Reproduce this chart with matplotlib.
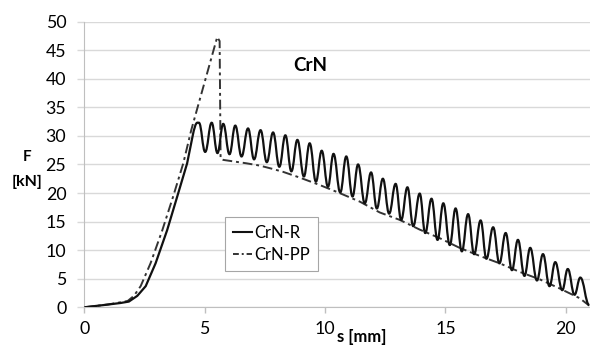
import matplotlib.pyplot as plt
from matplotlib.path import Path
from matplotlib.patches import PathPatch
from matplotlib.lines import Line2D

plt.rcParams['font.family'] = ['Lato', 'DejaVu Sans']

# CrN-R: smooth rise, then oscillation given by its peaks / troughs
rise_x = [0, 0.82, 1.5, 1.85, 2.2, 2.55, 2.96, 3.44, 3.86, 4.27, 4.50]
rise_y = [0, 0.4, 0.75, 1.0, 2.0, 3.7, 7.7, 13.5, 19.4, 25.2, 30.0]

peak_x = [4.76, 5.29, 5.77, 6.27, 6.80, 7.32, 7.84, 8.35, 8.85, 9.36, 9.86,
          10.35, 10.88, 11.37, 11.91, 12.40, 12.93, 13.42, 13.93, 14.42,
          14.91, 15.42, 15.94, 16.46, 16.98, 17.50, 18.01, 18.52, 19.05,
          19.56, 20.08, 20.60]
peak_y = [32.3, 32.3, 32.1, 31.8, 31.3, 31.0, 30.6, 30.1, 29.3, 28.7, 27.4,
          26.85, 26.4, 25.0, 23.6, 22.5, 21.6, 21.0, 19.9, 19.0,
          18.2, 17.3, 16.3, 15.2, 14.0, 13.0, 11.8, 10.4, 9.3,
          7.9, 6.7, 5.2]
trough_x = [5.02, 5.53, 6.03, 6.53, 7.05, 7.58, 8.10, 8.60, 9.12, 9.62,
            10.12, 10.63, 11.14, 11.65, 12.15, 12.66, 13.16, 13.66, 14.16,
            14.67, 15.18, 15.68, 16.19, 16.70, 17.24, 17.76, 18.28, 18.80,
            19.32, 19.85, 20.36]
trough_y = [27.2, 27.0, 26.8, 26.4, 25.9, 25.4, 24.6, 23.8, 22.9, 22.0,
            21.1, 20.1, 19.4, 18.2, 17.3, 16.4, 15.3, 14.2, 13.0,
            11.8, 10.9, 9.8, 9.3, 8.5, 7.7, 6.5, 5.5, 4.7,
            3.7, 3.0, 2.2]
end_x, end_y = 20.97, 0.4

# CrN-PP
pp_x = [0, 1.0, 1.8, 2.06, 2.34, 2.75, 3.24, 3.69, 4.11, 4.44, 5.52, 5.62,
        5.66, 5.77, 6.25, 6.74, 7.29, 7.84, 8.26, 8.95, 9.78, 10.6, 11.44,
        12.27, 13.1, 13.93, 14.76, 15.59, 16.42, 17.25, 18.08, 18.91, 19.74,
        20.57, 20.97]
pp_y = [0, 0.5, 1.1, 2.0, 3.7, 7.7, 13.5, 19.4, 25.2, 31.0, 47.3, 46.6,
        26.0, 25.8, 25.5, 25.2, 24.8, 24.2, 23.7, 22.7, 21.4, 20.0, 18.5,
        16.6, 15.3, 13.6, 12.1, 10.4, 9.0, 7.7, 6.2, 4.9, 3.3,
        1.6, 0.3]

fig = plt.figure(figsize=(5.9, 3.49), dpi=100)
ax = fig.add_axes([0.1429, 0.1195, 0.857, 0.8185])

# build the R curve as a path: straight rise, smooth waves after
ext = []
for i in range(len(peak_x)):
    ext.append((peak_x[i], peak_y[i]))
    if i < len(trough_x):
        ext.append((trough_x[i], trough_y[i]))
ext.append((end_x, end_y))

verts = list(zip(rise_x, rise_y))
codes = [Path.MOVETO] + [Path.LINETO] * (len(verts) - 1)
# rise -> first peak
x0, y0 = verts[-1]
x1, y1 = ext[0]
sx = (rise_x[-1] - rise_x[-2]); sy = (rise_y[-1] - rise_y[-2])
k = (x1 - x0) * 0.5 / sx
verts += [(x0 + sx * k, y0 + sy * k), (x1 - (x1 - x0) * 0.3, y1), (x1, y1)]
codes += [Path.CURVE4] * 3
for (xa, ya), (xb, yb) in zip(ext[:-1], ext[1:]):
    d = (xb - xa) * 0.42
    verts += [(xa + d, ya), (xb - d, yb), (xb, yb)]
    codes += [Path.CURVE4] * 3

ax.add_patch(PathPatch(Path(verts, codes), facecolor='none',
                       edgecolor='#111111', lw=1.6, zorder=3))
ax.plot(pp_x, pp_y, color='#333333', lw=1.4, ls=(0, (5, 2, 1.5, 2)), zorder=2)

ax.set_xlim(0, 21)
ax.set_ylim(0, 50)
ax.set_xticks(range(0, 21, 5))
ax.set_yticks(range(0, 51, 5))
ax.yaxis.grid(True, color='#d9d9d9', lw=1)
ax.set_axisbelow(True)
for s in ['top', 'right']:
    ax.spines[s].set_visible(False)
for s in ['left', 'bottom']:
    ax.spines[s].set_color('#bfbfbf')
ax.tick_params(axis='y', length=5, width=1, color='#d9d9d9', pad=8,
               labelsize=12.8, labelcolor='#000000')
ax.tick_params(axis='x', length=4, width=1, color='#bfbfbf', pad=6,
               labelsize=12.8)

ax.text(9.4, 42.4, 'CrN', fontsize=13.5, fontweight='bold', ha='center', va='center')
ax.text(10.5, -5.2, 's [mm]', fontsize=12, fontweight='bold', ha='left', va='center',
        clip_on=False)
fig.text(0.046, 0.549, 'F', fontsize=11, fontweight='bold', ha='center', va='center')
fig.text(0.046, 0.478, '[kN]', fontsize=11.5, fontweight='bold', ha='center', va='center')

handles = [Line2D([], [], color='#111111', lw=1.5),
           Line2D([], [], color='#333333', lw=1.4, ls=(0, (3, 1.5, 1, 1.5)))]
leg = ax.legend(handles, ['CrN-R', 'CrN-PP'], loc='lower left',
                bbox_to_anchor=(0.278, 0.127), borderaxespad=0, fontsize=12,
                handlelength=1.1, handletextpad=0.15, fancybox=False,
                framealpha=1, edgecolor='#a6a6a6', borderpad=0.5, labelspacing=0.35)
leg.get_frame().set_linewidth(0.8)

fig.savefig('out.png', dpi=100)
